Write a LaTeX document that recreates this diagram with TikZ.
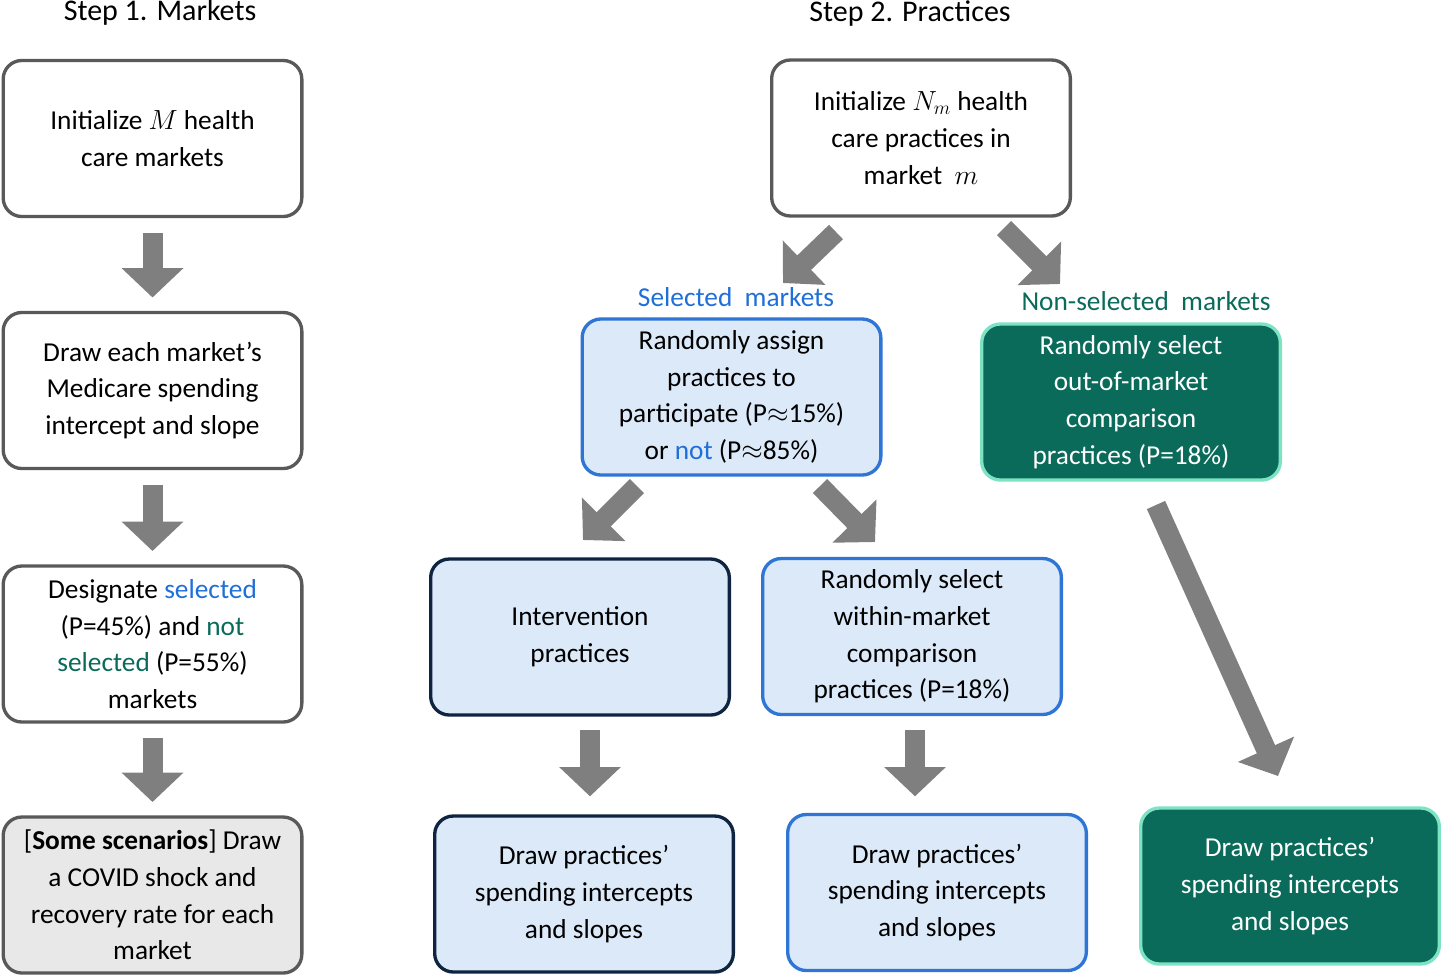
\documentclass[tikz,border=0pt]{standalone}
\usepackage{fontspec}
\setmainfont{Carlito}
\usetikzlibrary{arrows.meta}
\definecolor{boxgray}{HTML}{595959}
\definecolor{arrgray}{HTML}{7F7F7F}
\definecolor{lblue}{HTML}{DCE9F8}
\definecolor{mblue}{HTML}{2F75D6}
\definecolor{navy}{HTML}{0F2440}
\definecolor{teal}{HTML}{0A6B5A}
\definecolor{mint}{HTML}{7DE3C3}
\definecolor{txtblue}{HTML}{1F6FD8}
\definecolor{txtgreen}{HTML}{0A6B5A}
\tikzset{
  box/.style={draw=boxgray, line width=2.5pt, rounded corners=14pt, minimum width=224pt, minimum height=117pt, align=center, font=\fontsize{20.5}{27.5}\selectfont},
  selbox/.style={box, fill=lblue, draw=mblue},
  intbox/.style={box, fill=lblue, draw=navy},
  nonbox/.style={box, fill=teal, draw=mint, text=white},
  blk/.style={draw=arrgray, line width=15pt, -{Triangle[length=22pt, width=45pt]}},
  lbl/.style={font=\fontsize{20.5}{24}\selectfont},
  ttl/.style={font=\fontsize{22.5}{26}\selectfont}
}
\begin{document}
\begin{tikzpicture}[x=0.75pt,y=0.75pt,yscale=-1,xscale=1]
\useasboundingbox (0,0) rectangle (1441,976);

% Step 1
\node[ttl] (t1) at (160,12) {Step 1. Markets};
\node[box] (a1) at (152.5,138.5) {Initialize $M$ health\\care markets};
\node[box] (a2) at (152.5,390.5) {Draw each market’s\\Medicare spending\\intercept and slope};
\node[box] (a3) at (152.5,644) {Designate \textcolor{txtblue}{selected}\\(P=45\%) and \textcolor{txtgreen}{not}\\\textcolor{txtgreen}{selected} (P=55\%)\\markets};
\node[box, fill=black!9] (a4) at (152.5,895) {[\textbf{Some scenarios}] Draw\\a COVID shock and\\recovery rate for each\\market};
\draw[blk, shorten <=11pt, shorten >=10pt] (a1) -- (a2);
\draw[blk, shorten <=11pt, shorten >=10pt] (a2) -- (a3);
\draw[blk, shorten <=11pt, shorten >=10pt] (a3) -- (a4);

% Step 2
\node[ttl] (t2) at (910,14) {Step 2. Practices};
\node[box] (b1) at (921,138) {Initialize $N_m$ health\\care practices in\\market~~$m$};
\node[lbl, text=txtblue] (sel) at (736,297) {Selected~~markets};
\node[lbl, text=txtgreen] (non) at (1146,301) {Non-selected~~markets};
\node[selbox] (b2) at (731.5,397) {Randomly assign\\practices to\\participate (P$\approx$15\%)\\or \textcolor{txtblue}{not} (P$\approx$85\%)};
\node[nonbox] (b3) at (1131,402) {Randomly select\\out-of-market\\comparison\\practices (P=18\%)};
\node[intbox] (b4) at (580,637) {Intervention\\practices};
\node[selbox] (b5) at (912,636.5) {Randomly select\\within-market\\comparison\\practices (P=18\%)};
\node[intbox] (b6) at (584,894) {Draw practices’\\spending intercepts\\and slopes};
\node[selbox] (b7) at (937,892.5) {Draw practices’\\spending intercepts\\and slopes};
\node[nonbox] (b8) at (1290,886) {Draw practices’\\spending intercepts\\and slopes};

\coordinate (s1) at (836,232);
\coordinate (e1) at (783,283);
\coordinate (s2) at (1004,228);
\coordinate (e2) at (1060,284);
\coordinate (s3) at (637,486);
\coordinate (e3) at (583,540);
\coordinate (s4) at (820,486);
\coordinate (e4) at (875,542);
\coordinate (s5) at (1156,505);
\coordinate (e5) at (1278,776);
\draw[blk] (s1) -- (e1);
\draw[blk] (s2) -- (e2);
\draw[blk] (s3) -- (e3);
\draw[blk] (s4) -- (e4);
\draw[blk] (s5) -- (e5);
\draw[blk, shorten <=10pt, shorten >=14pt] (b4.south -| 590,0) -- (590,815);
\draw[blk, shorten <=10pt, shorten >=14pt] (b5.south -| 915,0) -- (915,815);
\end{tikzpicture}
\end{document}
